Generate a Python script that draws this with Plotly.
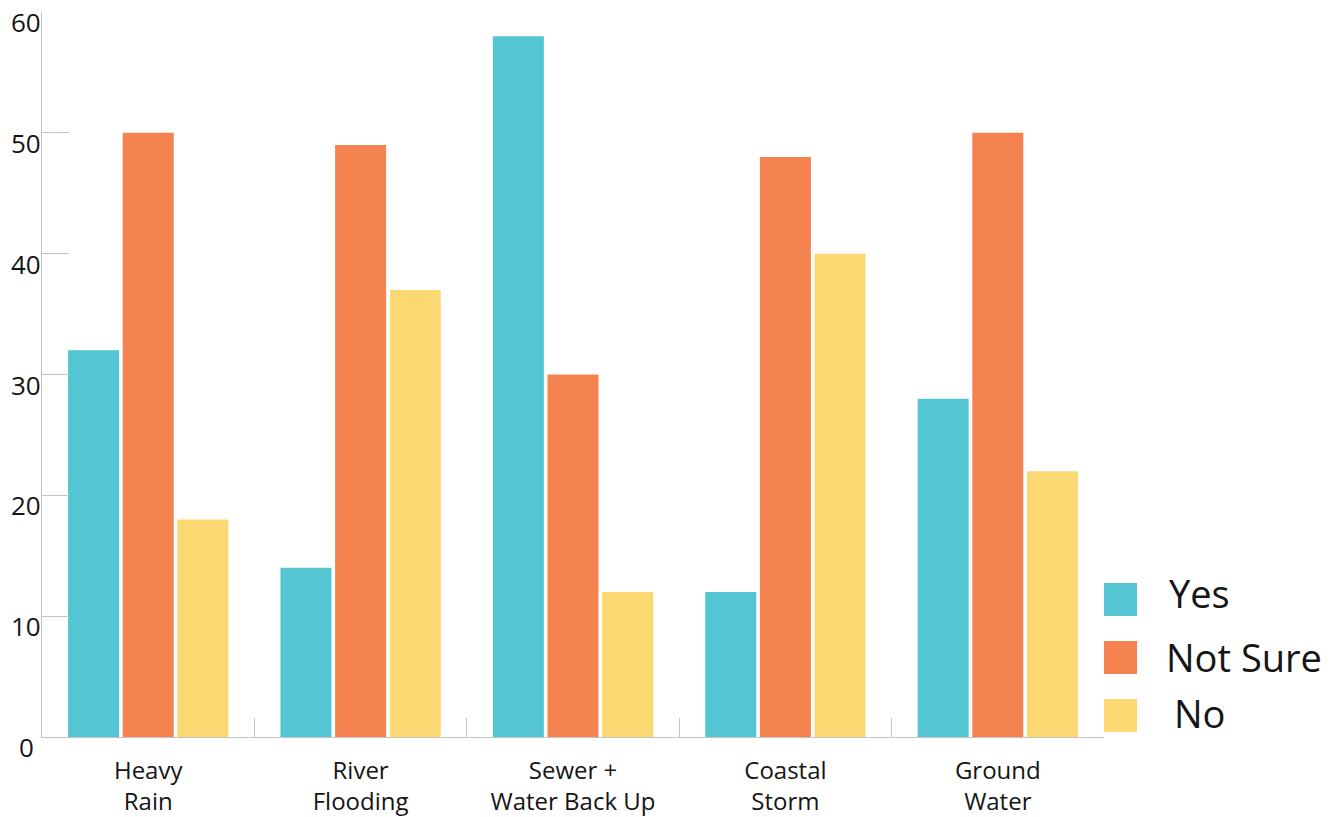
import plotly.graph_objects as go

# Survey responses by flood source
categories = ["Heavy<br>Rain", "River<br>Flooding", "Sewer +<br>Water Back Up", "Coastal<br>Storm", "Ground<br>Water"]
series_names = ["Yes", "Not Sure", "No"]
yes_values = [32, 14, 58, 12, 28]
not_sure_values = [50, 49, 30, 48, 50]
no_values = [18, 37, 12, 40, 22]
y_ticks = [0, 10, 20, 30, 40, 50, 60]

colors = ["#54C5D2", "#F58350", "#FBD872"]
font_family = "Open Sans, Noto Sans, sans-serif"
text_color = "#151515"
axis_color = "#c4c4c4"

# Plot-area geometry in pixels (used for the hand-drawn legend)
W, H = 1338, 817
ML, MR, MT, MB = 42, 234, 12, 80
plot_w = W - ML - MR
plot_h = H - MT - MB


def px_x(px):
    return (px - ML) / plot_w


def px_y(py):
    return (H - MB - py) / plot_h


fig = go.Figure()
for name, vals, col in zip(series_names, [yes_values, not_sure_values, no_values], colors):
    fig.add_trace(go.Bar(x=categories, y=vals, name=name, marker=dict(color=col, line=dict(width=0)),
                         showlegend=False))

annotations = []
# y tick labels, set slightly below their tick marks
for v in y_ticks:
    annotations.append(dict(x=0, xref="paper", y=v, yref="y", text=str(v), showarrow=False,
                            xanchor="center", yanchor="middle", xshift=-16, yshift=-10,
                            font=dict(family=font_family, size=26, color=text_color)))

# Legend: coloured squares with labels
shapes = []
legend_rows = [(583, 616), (641, 674), (699, 732)]
label_x = [1167, 1164, 1172]
label_dy = [-7, -1, -3]
for (top, bottom), name, col, lx, dy in zip(legend_rows, series_names, colors, label_x, label_dy):
    shapes.append(dict(type="rect", xref="paper", yref="paper",
                       x0=px_x(1104), x1=px_x(1137), y0=px_y(bottom), y1=px_y(top),
                       fillcolor=col, line=dict(width=0)))
    annotations.append(dict(x=px_x(lx), xref="paper", y=px_y((top + bottom) / 2 + dy), yref="paper",
                            text=name, showarrow=False, xanchor="left", yanchor="middle",
                            font=dict(family=font_family, size=38, color=text_color)))

fig.update_layout(
    width=W, height=H,
    margin=dict(l=ML, r=MR, t=MT, b=MB, pad=0, autoexpand=False),
    paper_bgcolor="white", plot_bgcolor="white",
    barmode="group", bargap=0.228, bargroupgap=0.067,
    font=dict(family=font_family, color=text_color),
    shapes=shapes, annotations=annotations,
    xaxis=dict(showgrid=False, zeroline=False, showline=True, linecolor=axis_color, linewidth=1,
               ticks="inside", tickson="boundaries", ticklen=19, tickcolor=axis_color, tickwidth=1,
               tickfont=dict(family=font_family, size=24, color=text_color), ticklabelstandoff=12,
               automargin=False),
    yaxis=dict(range=[0, 60], showgrid=False, zeroline=False, showline=True, linecolor=axis_color,
               linewidth=1, ticks="inside", ticklen=27, tickcolor=axis_color, tickwidth=1,
               tickvals=y_ticks, showticklabels=False, automargin=False),
)

fig.write_html("out.html")
